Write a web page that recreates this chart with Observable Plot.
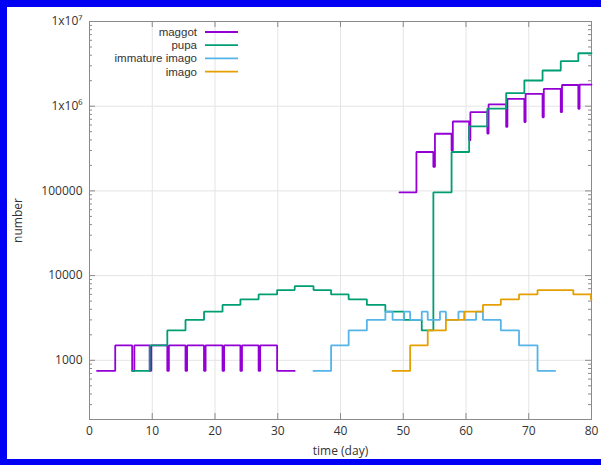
<!DOCTYPE html>
<html><head><meta charset="utf-8">
<script src="https://cdn.jsdelivr.net/npm/d3@7"></script>
<script src="https://cdn.jsdelivr.net/npm/@observablehq/plot@0.6"></script>
<style>
html,body{margin:0;padding:0;background:#fff;overflow:hidden;width:601px;height:465px;}
#chart{position:relative;width:601px;height:465px;overflow:hidden;}
#chart svg{display:block;}
.bar{position:absolute;background:#0000f5;pointer-events:none;}
</style></head><body>
<div id="chart">
  <div class="bar" style="left:0;top:0;width:601px;height:7px;"></div>
  <div class="bar" style="left:0;top:0;width:7px;height:465px;"></div>
  <div class="bar" style="left:0;top:459px;width:601px;height:6px;"></div>
</div>
<script>
// ---- data ----
const seriesNames = ["maggot", "pupa", "immature imago", "imago"];
const seriesColors = ["#9400d3", "#009e73", "#56b4e9", "#e69f00"];

const maggotDay = [1.2, 4.1, 6.8, 7.15, 9.6, 9.85, 12.4, 12.65, 15.3, 15.55, 18.25, 18.5, 21.2, 21.45, 24.05, 24.3, 26.95, 27.2, 29.9, 32.7, 33.0,
  49.4, 52.1, 54.8, 55.05, 57.7, 57.9, 60.5, 60.7, 63.4, 63.6, 66.4, 66.6, 69.3, 69.5, 72.2, 72.4, 75.1, 75.3, 77.9, 78.1, 80];
const maggotCount = [750, 1500, 750, 1500, 750, 1500, 750, 1500, 750, 1500, 750, 1500, 750, 1500, 750, 1500, 750, 1500, 750, 750, NaN,
  96000, 288000, 192000, 473000, 300000, 660000, 395000, 850000, 475000, 1050000, 570000, 1220000, 650000, 1400000, 740000, 1600000, 850000, 1780000, 930000, 1800000, 1800000];

const pupaDay = [6.8, 9.6, 12.4, 15.3, 18.25, 21.2, 24.05, 26.95, 29.9, 32.7, 35.7, 38.5, 41.3, 44.2, 47.15, 50.1, 52.95,
  54.8, 57.7, 60.5, 63.4, 66.4, 69.3, 72.2, 75.1, 77.9, 80];
const pupaCount = [750, 1500, 2250, 3000, 3750, 4500, 5250, 6000, 6750, 7500, 6750, 6000, 5250, 4500, 3750, 3000, 2250,
  96000, 288000, 578000, 935000, 1430000, 2010000, 2640000, 3400000, 4220000, 4220000];

const immatureDay = [35.7, 38.5, 41.3, 44.2, 47.15, 48.3, 50.1, 51.1, 52.95, 53.9, 55.85, 56.8, 58.8, 59.75, 61.6, 62.7, 65.55, 68.45, 71.4, 74.2];
const immatureCount = [750, 1500, 2250, 3000, 3750, 3000, 3750, 3000, 3750, 3000, 3750, 3000, 3750, 3000, 3750, 3000, 2250, 1500, 750, 750];

const imagoDay = [48.3, 51.1, 53.9, 56.8, 59.75, 62.7, 65.55, 68.45, 71.4, 77.1, 79.9, 80];
const imagoCount = [750, 1500, 2250, 3000, 3750, 4500, 5250, 6000, 6750, 6000, 5250, 5250];

const xTicks = [0, 10, 20, 30, 40, 50, 60, 70, 80];
const yTicks = [1000, 10000, 100000, 1000000, 10000000];
const yTickLabels = ["1000", "10000", "100000", "1x10\u2076", "1x10\u2077"];
const xDomain = [0, 80];
const yDomain = [200, 10000000];
const xLabel = "time (day)";
const yLabel = "number";

// ---- build table ----
const seriesDays = [maggotDay, pupaDay, immatureDay, imagoDay];
const seriesCounts = [maggotCount, pupaCount, immatureCount, imagoCount];
const rows = seriesNames.flatMap((name, s) =>
  seriesDays[s].map((d, i) => ({series: name, day: d, count: seriesCounts[s][i]})));

// minor ticks on the log axis (2..9 of each decade)
const yMinor = [];
for (let e = 2; e <= 6; e++) for (let m = 2; m <= 9; m++) {
  const v = m * Math.pow(10, e);
  if (v > yDomain[0] && v < yDomain[1]) yMinor.push(v);
}

const W = 601, H = 465, mL = 89, mR = 10, mT = 21, mB = 46;
const innerW = W - mL - mR, innerH = H - mT - mB;
const axisColor = "#8a8a8a", gridColor = "#e4e4e4", textColor = "#333";

const chart = Plot.plot({
  width: W, height: H,
  marginLeft: mL, marginRight: mR, marginTop: mT, marginBottom: mB,
  style: {fontFamily: "'Open Sans', sans-serif", fontSize: "12px", color: textColor, background: "#fff"},
  x: {domain: xDomain},
  y: {type: "log", domain: yDomain},
  color: {domain: seriesNames, range: seriesColors},
  marks: [
    Plot.ruleX(xTicks.slice(1, -1), {stroke: gridColor, strokeWidth: 1}),
    Plot.ruleY(yTicks.slice(0, -1), {stroke: gridColor, strokeWidth: 1}),
    Plot.ruleX(xTicks, {stroke: axisColor, insetTop: innerH - 6}),
    Plot.ruleX(xTicks, {stroke: axisColor, insetBottom: innerH - 6}),
    Plot.ruleY(yTicks, {stroke: axisColor, insetRight: innerW - 6}),
    Plot.ruleY(yTicks, {stroke: axisColor, insetLeft: innerW - 6}),
    Plot.ruleY(yMinor, {stroke: axisColor, insetRight: innerW - 3}),
    Plot.ruleY(yMinor, {stroke: axisColor, insetLeft: innerW - 3}),
    Plot.frame({stroke: axisColor}),
    Plot.axisX(xTicks, {tickSize: 0, tickPadding: 7, label: null, fill: textColor}),
    Plot.axisY(yTicks, {tickSize: 0, tickPadding: 7, label: null, fill: textColor,
      tickFormat: d => yTickLabels[yTicks.indexOf(d)]}),
    Plot.text([xLabel], {frameAnchor: "bottom", dy: 32, lineAnchor: "middle", textAnchor: "middle", fill: textColor}),
    Plot.text([yLabel], {frameAnchor: "left", dx: -71, rotate: -90, lineAnchor: "middle", textAnchor: "middle", fill: textColor}),
    Plot.line(rows, {x: "day", y: "count", z: "series", stroke: "series",
      curve: "step-after", strokeWidth: 1.8, strokeLinejoin: "miter"})
  ]
});

document.getElementById("chart").prepend(chart);

// legend (gnuplot style, top-left inside the plot)
const svg = d3.select(chart);
const lg = svg.append("g").attr("font-family", "'Liberation Sans', Arial, sans-serif").attr("font-size", 11.5);
seriesNames.forEach((name, i) => {
  const y = 32 + i * 13.2;
  lg.append("text").attr("x", 197).attr("y", y).attr("dy", "0.35em")
    .attr("text-anchor", "end").attr("fill", textColor).text(name);
  lg.append("line").attr("x1", 205).attr("x2", 238).attr("y1", y).attr("y2", y)
    .attr("stroke", seriesColors[i]).attr("stroke-width", 1.8);
});
</script>
</body></html>
